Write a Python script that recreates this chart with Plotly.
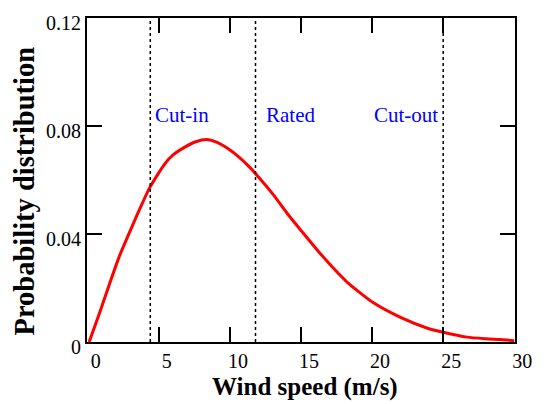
import plotly.graph_objects as go

# Wind speed (m/s) and probability values
wind_speed = [0.1, 0.85, 1.55, 2.25, 2.84, 3.54, 4.37, 5.42, 6.0, 6.83, 7.6, 8.36,
              9.1, 9.88, 10.6, 11.4, 12.1, 13.05, 13.99, 14.93, 16.46, 18.2,
              20.1, 22.0, 23.85, 25.0, 26.67, 28.0, 29.0, 30.0]
probability = [0.0, 0.0110, 0.0218, 0.0321, 0.0394, 0.0479, 0.0573, 0.0660, 0.0693,
               0.0722, 0.0742, 0.0750, 0.0740, 0.0716, 0.0687, 0.0647, 0.0606,
               0.0546, 0.0479, 0.0418, 0.0321, 0.0224, 0.0145, 0.0091, 0.0052,
               0.0036, 0.0018, 0.0012, 0.0009, 0.0005]

# Operating thresholds (m/s)
threshold_names = ["Cut-in", "Rated", "Cut-out"]
threshold_speeds = [4.4, 11.8, 25.0]
label_x = [4.6, 12.4, 20.0]
label_y = [0.0842, 0.0842, 0.0842]

x_ticks = [0, 5, 10, 15, 20, 25, 30]
y_ticks = [0, 0.04, 0.08, 0.12]
y_tick_text = ["0", "0.04", "0.08", "0.12"]

FONT = "Liberation Serif, Times New Roman, serif"
X_RANGE = [-0.05, 30.05]

fig = go.Figure()
fig.add_trace(go.Scatter(x=wind_speed, y=probability, mode="lines",
                         line=dict(color="#ff0000", width=3, shape="spline", smoothing=0.6),
                         showlegend=False))
# invisible companion trace on an overlaid x axis that only carries the inside tick marks
fig.add_trace(go.Scatter(x=[wind_speed[0]], y=[probability[0]], xaxis="x2", mode="markers",
                         marker=dict(opacity=0), showlegend=False, hoverinfo="skip"))

for s in threshold_speeds:
    fig.add_shape(type="line", x0=s, x1=s, y0=0, y1=0.12, xref="x", yref="y",
                  line=dict(color="black", width=1.5, dash="dot"))

for name, lx, ly in zip(threshold_names, label_x, label_y):
    fig.add_annotation(x=lx, y=ly, xref="x", yref="y", text=name, showarrow=False,
                       xanchor="left", yanchor="middle",
                       font=dict(family=FONT, size=21, color="#0000ff"))

fig.add_annotation(xref="paper", yref="paper", x=0.5105, y=-0.14,
                   text="<b>Wind speed (m/s)</b>", showarrow=False,
                   xanchor="center", yanchor="middle",
                   font=dict(family=FONT, size=25, color="black"))
fig.add_annotation(xref="paper", yref="paper", x=-0.147, y=0.465,
                   text="<b>Probability distribution</b>", showarrow=False, textangle=-90,
                   xanchor="center", yanchor="middle",
                   font=dict(family=FONT, size=28.5, color="black"))

fig.update_layout(
    xaxis=dict(range=X_RANGE, tickvals=x_ticks, ticks="inside", ticklen=15,
               tickwidth=2, tickcolor="black", showline=True, linewidth=2,
               linecolor="black", mirror="ticks", showgrid=False, zeroline=False,
               ticklabelshift=8, tickfont=dict(family=FONT, size=20, color="black")),
    xaxis2=dict(overlaying="x", anchor="y", side="bottom", range=X_RANGE,
                tickmode="linear", tick0=0, dtick=5, ticks="inside", ticklen=15,
                tickwidth=2, tickcolor="black", showticklabels=False, showline=False,
                mirror="ticks", showgrid=False, zeroline=False),
    yaxis=dict(range=[0, 0.12005], tickvals=y_ticks, ticktext=y_tick_text, ticks="inside",
               ticklen=15, tickwidth=2, tickcolor="black", showline=True, linewidth=2,
               linecolor="black", mirror="ticks", showgrid=False, zeroline=False,
               ticklabelshift=5, tickfont=dict(family=FONT, size=20, color="black")),
    width=545, height=404, margin=dict(l=87, r=30, t=12, b=62),
    plot_bgcolor="white", paper_bgcolor="white", showlegend=False)

fig.write_html("out.html")
